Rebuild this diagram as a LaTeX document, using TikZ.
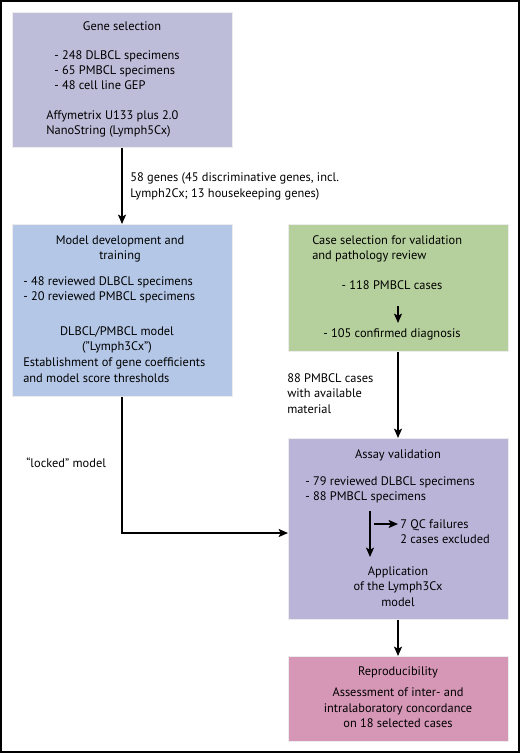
\documentclass[tikz,border=0pt]{standalone}
\usepackage{fontspec}
\setmainfont{PT Sans}
\usetikzlibrary{arrows.meta}
\definecolor{cgene}{HTML}{BDBCD9}
\definecolor{cmodel}{HTML}{B4C7E7}
\definecolor{ccase}{HTML}{B5D09C}
\definecolor{cassay}{HTML}{BBB4D9}
\definecolor{crepro}{HTML}{D597B5}
\tikzset{
  box/.style={draw=white!85!gray, line width=0.4pt, inner sep=0pt, minimum width=220*0.75pt},
  txt/.style={inner sep=0pt, font=\fontsize{9.3}{11}\selectfont},
  arr/.style={line width=1.1pt, -{Stealth[length=7pt,width=6pt,inset=1.5pt]}},
}
\begin{document}
\begin{tikzpicture}[x=0.75pt,y=-0.75pt]
\useasboundingbox (0,0) rectangle (520,753);
\draw[line width=1.6pt] (1,1) rectangle (519,752);
% boxes
\node[box, fill=cgene, anchor=north west, minimum height=135*0.75pt] (gene) at (12,12) {};
\node[box, fill=cmodel, anchor=north west, minimum height=172*0.75pt] (model) at (12,224) {};
\node[box, fill=ccase, anchor=north west, minimum height=127*0.75pt] (case) at (288,224) {};
\node[box, fill=cassay, anchor=north west, minimum height=181*0.75pt] (assay) at (288,438) {};
\node[box, fill=crepro, anchor=north west, minimum height=85*0.75pt] (repro) at (288,656) {};
% gene selection text
\node[txt, anchor=base] (g1) at (122,31) {Gene selection};
\node[txt, anchor=base west] (g2) at (54,59) {- 248 DLBCL specimens};
\node[txt, anchor=base west] (g3) at (54,74) {- 65 PMBCL specimens};
\node[txt, anchor=base west] (g4) at (54,89) {- 48 cell line GEP};
\node[txt, anchor=base west] (g5) at (46,119) {Affymetrix U133 plus 2.0};
\node[txt, anchor=base west] (g6) at (46,134) {NanoString (Lymph5Cx)};
% arrow gene -> model
\draw[arr] (gene.south -| 122,0) -- (model.north -| 122,0);
\node[txt, anchor=base west] (l1) at (130,181) {58 genes (45 discriminative genes, incl.};
\node[txt, anchor=base west] (l2) at (130,197) {Lymph2Cx; 13 housekeeping genes)};
% model text
\node[txt, anchor=base] (m1) at (120,244) {Model development and};
\node[txt, anchor=base] (m2) at (120,259) {training};
\node[txt, anchor=base west] (m3) at (23,285) {- 48 reviewed DLBCL specimens};
\node[txt, anchor=base west] (m4) at (23,300) {- 20 reviewed PMBCL specimens};
\node[txt, anchor=base] (m5) at (117,335) {DLBCL/PMBCL model};
\node[txt, anchor=base] (m6) at (117,350) {(”Lymph3Cx”)};
\node[txt, anchor=base west] (m7) at (23,366) {Establishment of gene coefficients};
\node[txt, anchor=base west] (m8) at (23,382) {and model score thresholds};
% case selection text
\node[txt, anchor=base west] (c1) at (312,244) {Case selection for validation};
\node[txt, anchor=base west] (c2) at (312,259) {and pathology review};
\node[txt, anchor=base] (c3) at (392,289) {- 118 PMBCL cases};
\node[txt, anchor=base] (c4) at (392,337) {- 105 confirmed diagnosis};
\coordinate (ca) at (398,306);
\coordinate (cb) at (398,323);
\draw[arr] (ca) -- (cb);
% case -> assay
\draw[arr] (case.south -| 398,0) -- (assay.north -| 398,0);
\node[txt, anchor=base west] (p1) at (287,382) {88 PMBCL cases};
\node[txt, anchor=base west] (p2) at (287,397) {with available};
\node[txt, anchor=base west] (p3) at (287,413) {material};
% model -> assay
\draw[arr] (model.south -| 122,0) |- (assay.west |- 0,533);
\node[txt, anchor=base west] (lk) at (26,467) {“locked” model};
% assay text
\node[txt, anchor=base] (a1) at (398,458) {Assay validation};
\node[txt, anchor=base west] (a2) at (305,485) {- 79 reviewed DLBCL specimens};
\node[txt, anchor=base west] (a3) at (305,500) {- 88 PMBCL specimens};
\coordinate (av1) at (370,511);
\coordinate (av2) at (370,557);
\draw[arr] (av1) -- (av2);
\coordinate (ah1) at (374,524);
\coordinate (ah2) at (398,524);
\draw[arr] (ah1) -- (ah2);
\node[txt, anchor=base west] (q1) at (400,528) {7 QC failures};
\node[txt, anchor=base west] (q2) at (400,543) {2 cases excluded};
\node[txt, anchor=base] (ap1) at (398,575) {Application};
\node[txt, anchor=base] (ap2) at (398,590) {of the Lymph3Cx};
\node[txt, anchor=base] (ap3) at (398,606) {model};
% assay -> repro
\draw[arr] (assay.south -| 398,0) -- (repro.north -| 398,0);
\node[txt, anchor=base] (r1) at (398,675) {Reproducibility};
\node[txt, anchor=base] (r2) at (398,696) {Assessment of inter- and};
\node[txt, anchor=base] (r3) at (398,712) {intralaboratory concordance};
\node[txt, anchor=base] (r4) at (398,727) {on 18 selected cases};
\end{tikzpicture}
\end{document}
